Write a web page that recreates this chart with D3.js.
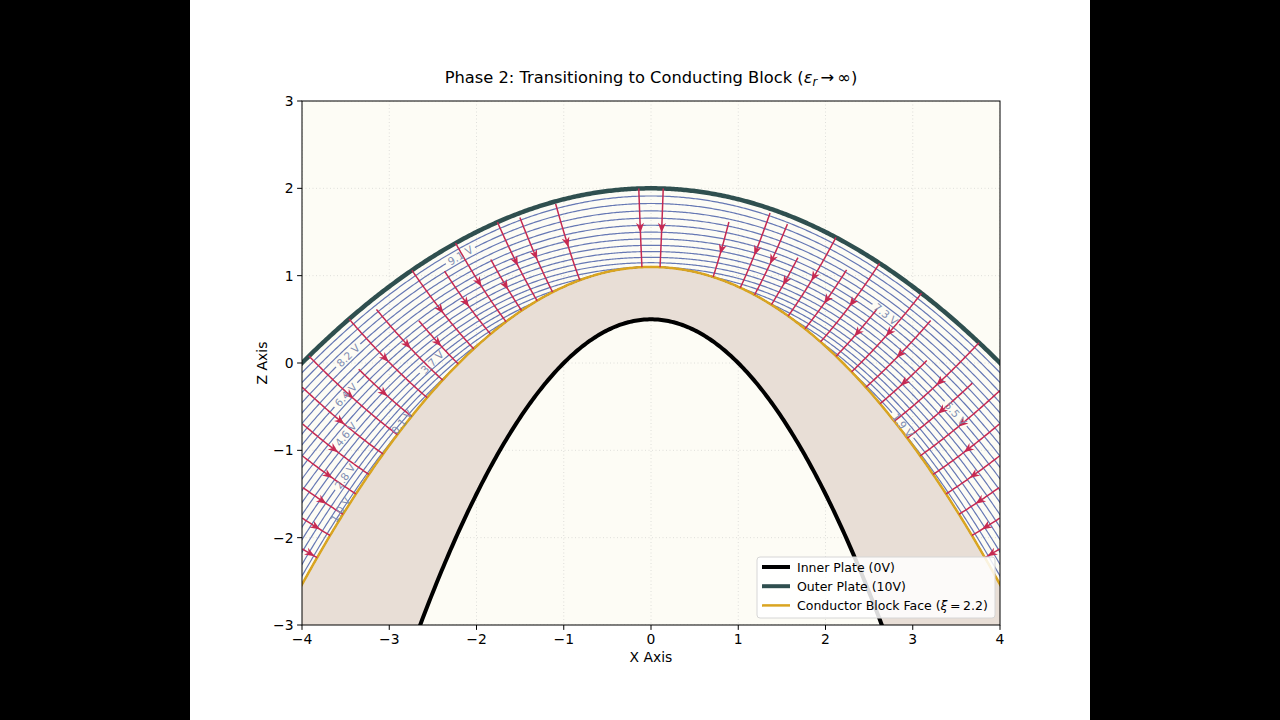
<!DOCTYPE html>
<html><head><meta charset="utf-8">
<script src="https://cdn.jsdelivr.net/npm/d3@7"></script>
<style>
html,body{margin:0;padding:0;background:#000;}
svg{display:block}
text{font-family:"DejaVu Sans",sans-serif}
</style></head><body>
<svg id="c" width="1280" height="720"></svg>
<script>
// ---------- data ----------
const X_TICKS = [-4,-3,-2,-1,0,1,2,3,4];
const Z_TICKS = [-3,-2,-1,0,1,2,3];
const INNER_XI = 1, OUTER_XI = 4, BLOCK_XI = 2.2;   // plate / block-face parameters
const OUTER_V = 10;
const LEVELS = [0.1,0.55,1.0,1.45,1.9,2.35,2.8,3.25,3.7,4.15,4.6,5.05,5.5,5.95,6.4,6.85,7.3,7.75,8.2,8.65,9.1,9.55];
const LABEL_LEVELS = [8.2,6.4,4.6,2.8,1.0,0.1,3.7,9.1,7.3,5.5,1.9];
const LABEL_SIGMA  = [-1.84,-1.97,-2.10,-2.245,-2.37,-1.90,-1.58,-1.13,1.48,2.03,1.92];
const FIELD_SIGMA = [-2.68,-2.58,-2.48,-2.38,-2.28,-2.18,-2.07,-1.96,-1.85,-1.73,-1.61,-1.49,-1.37,-1.24,-1.12,-1.0,-0.88,-0.76,-0.55,-0.07,
                      0.07,0.48,0.69,0.8,0.93,1.06,1.19,1.31,1.43,1.55,1.66,1.77,1.88,1.98,2.08,2.18,2.28,2.38,2.48,2.58,2.68];
const FIELD_START = [1,1,0.8,1,0.7,1,0.85,1,0.6,1,0.9,0.55,1,0.8,1,0.65,1,0.95,0.97,1,
                     1,0.7,0.95,0.9,0.6,1,0.75,1,0.6,1,0.85,0.55,1,0.7,1,0.9,1,0.8,1,0.9,1];
// block-face potential profile (transition phase): floor + centre bump, and gap profile exponent
const FACE_VMIN = 1.0, FACE_BUMP = 3.6, FACE_W = 1.3, PROFILE_EXP = 0.85;
const LEGEND = [
  {label:"Inner Plate (0V)", color:"#000000", w:4},
  {label:"Outer Plate (10V)", color:"#2f4f4f", w:4},
  {label:"Conductor Block Face", color:"#daa520", w:2.5, xi:"2.2"}
];

// ---------- layout ----------
const svg = d3.select("#c");
const L=302, R=1000, T=101, B=625;
const x = d3.scaleLinear().domain([-4,4]).range([L,R]);
const y = d3.scaleLinear().domain([-3,3]).range([B,T]);

svg.append("rect").attr("x",190).attr("y",0).attr("width",900).attr("height",720).attr("fill","#fff");
const defs = svg.append("defs");
defs.append("clipPath").attr("id","plotclip").append("rect")
  .attr("x",L).attr("y",T).attr("width",R-L).attr("height",B-T);

svg.append("rect").attr("x",L).attr("y",T).attr("width",R-L).attr("height",B-T).attr("fill","#fdfcf5");

const plot = svg.append("g").attr("clip-path","url(#plotclip)");

// grid
const grid = plot.append("g").attr("stroke","#b8b8b8").attr("stroke-width",0.8)
  .attr("stroke-dasharray","1,2.5").attr("opacity",0.55);
X_TICKS.forEach(t=>grid.append("line").attr("x1",x(t)).attr("x2",x(t)).attr("y1",T).attr("y2",B));
Z_TICKS.forEach(t=>grid.append("line").attr("y1",y(t)).attr("y2",y(t)).attr("x1",L).attr("x2",R));

// parabola of constant xi:  z = xi/2 - x^2/(2 xi)
const zOf = (xi, xx) => xi/2 - xx*xx/(2*xi);
const xs = d3.range(-4.6, 4.6001, 0.02);

// block region between inner plate and block face
plot.append("path")
  .attr("d", d3.area().x(d=>x(d)).y0(d=>y(zOf(INNER_XI,d))).y1(d=>y(zOf(BLOCK_XI,d)))(xs))
  .attr("fill","#e8ded6");

// potential model in parabolic coords (x = sigma*sqrt(xi), z = (xi - sigma^2)/2)
const faceV = s => FACE_VMIN + FACE_BUMP*Math.exp(-(s/FACE_W)*(s/FACE_W));
function xiAt(v, s){
  const vf = faceV(s);
  if (v <= vf) return BLOCK_XI;
  const t = Math.pow((v-vf)/(OUTER_V-vf), 1/PROFILE_EXP);
  return BLOCK_XI + (OUTER_XI-BLOCK_XI)*t;
}
const toXZ = (s, xi) => [s*Math.sqrt(xi), (xi - s*s)/2];
const sigmas = d3.range(-2.9, 2.9001, 0.01);
const line = d3.line().x(d=>x(d[0])).y(d=>y(d[1]));

// labels first (to measure) -> masks
const labelG = svg.append("g").attr("clip-path","url(#plotclip)");
const labelInfo = LABEL_LEVELS.map((v,i)=>{
  const s = LABEL_SIGMA[i];
  let xi = xiAt(v,s);
  if (xi <= BLOCK_XI + 1e-9) xi = BLOCK_XI + 0.06;   // label sitting on the face, nudged into the gap
  const p = toXZ(s, xi);
  const p2 = toXZ(s+0.01, xi);
  const px=x(p[0]), py=y(p[1]);
  let ang = Math.atan2(y(p2[1])-py, x(p2[0])-px)*180/Math.PI;
  if (ang>90) ang-=180; if (ang<-90) ang+=180;
  const tx = labelG.append("text").attr("x",0).attr("y",0)
    .attr("transform",`translate(${px},${py}) rotate(${ang})`)
    .attr("text-anchor","middle").attr("dominant-baseline","central")
    .attr("font-size",10.5).attr("fill","#7f8db2").text(v.toFixed(1)+" V");
  const w = tx.node().getComputedTextLength();
  return {v, px, py, ang, w};
});

const contourG = plot.append("g");
LEVELS.forEach((v,i)=>{
  const pts = sigmas.map(s=>toXZ(s, xiAt(v,s)));
  const labs = labelInfo.filter(l=>Math.abs(l.v-v)<1e-6);
  const path = contourG.append("path").attr("d",line(pts)).attr("fill","none")
    .attr("stroke","#6678b4").attr("stroke-width",1.2);
  if (labs.length){
    const m = defs.append("mask").attr("id","m"+i).attr("maskUnits","userSpaceOnUse")
      .attr("x",0).attr("y",0).attr("width",1280).attr("height",720);
    m.append("rect").attr("x",0).attr("y",0).attr("width",1280).attr("height",720).attr("fill","#fff");
    labs.forEach(l=>{
      m.append("rect").attr("x",-l.w/2-3).attr("y",-5).attr("width",l.w+6).attr("height",10)
        .attr("transform",`translate(${l.px},${l.py}) rotate(${l.ang})`).attr("fill","#000");
    });
    path.attr("mask","url(#m"+i+")");
  }
});

// plates
plot.append("path").attr("d", line(xs.map(d=>[d, zOf(INNER_XI,d)]))).attr("fill","none")
  .attr("stroke","#000").attr("stroke-width",4);
plot.append("path").attr("d", line(xs.map(d=>[d, zOf(OUTER_XI,d)]))).attr("fill","none")
  .attr("stroke","#2f4f4f").attr("stroke-width",4.5);
plot.append("path").attr("d", line(xs.map(d=>[d, zOf(BLOCK_XI,d)]))).attr("fill","none")
  .attr("stroke","#daa520").attr("stroke-width",2.5);

labelG.raise();

// field lines (constant sigma), from start fraction down to the block face
const fieldG = plot.append("g");
FIELD_SIGMA.forEach((s,i)=>{
  const ts = d3.range(FIELD_START[i], -0.0001, -0.01);
  const pts = ts.map(t=>toXZ(s, BLOCK_XI + (OUTER_XI-BLOCK_XI)*t))
    .filter(p=>p[0]>=-4 && p[0]<=4 && p[1]>=-3 && p[1]<=3);
  if (pts.length<3) return;
  fieldG.append("path").attr("d",line(pts)).attr("fill","none")
    .attr("stroke","#c62a52").attr("stroke-width",1.5);
  const k = Math.floor(pts.length/2);
  const a = pts[Math.max(0,k-1)], b = pts[Math.min(pts.length-1,k+1)];
  const ax=x(a[0]), ay=y(a[1]), bx=x(b[0]), by=y(b[1]);
  const len = Math.hypot(bx-ax, by-ay)||1;
  const ux=(bx-ax)/len, uy=(by-ay)/len;
  const cx=x(pts[k][0]), cy=y(pts[k][1]);
  const tip=[cx+ux*5, cy+uy*5], bl=[cx-ux*5-uy*4, cy-uy*5+ux*4], br=[cx-ux*5+uy*4, cy-uy*5-ux*4];
  fieldG.append("path").attr("d",`M${tip}L${bl}L${cx-ux*2},${cy-uy*2}L${br}Z`).attr("fill","#c62a52");
});

// frame and axes
svg.append("rect").attr("x",L).attr("y",T).attr("width",R-L).attr("height",B-T)
  .attr("fill","none").attr("stroke","#000").attr("stroke-width",1);
const fmt = d => d<0 ? "\u2212"+Math.abs(d) : String(d);
X_TICKS.forEach(t=>{
  svg.append("line").attr("x1",x(t)).attr("x2",x(t)).attr("y1",B).attr("y2",B+4.9).attr("stroke","#000");
  svg.append("text").attr("x",x(t)).attr("y",B+8.5).attr("text-anchor","middle")
    .attr("dominant-baseline","hanging").attr("font-size",13.9).text(fmt(t));
});
Z_TICKS.forEach(t=>{
  svg.append("line").attr("x1",L-4.9).attr("x2",L).attr("y1",y(t)).attr("y2",y(t)).attr("stroke","#000");
  svg.append("text").attr("x",L-8.5).attr("y",y(t)).attr("text-anchor","end")
    .attr("dominant-baseline","central").attr("font-size",13.9).text(fmt(t));
});
svg.append("text").attr("x",(L+R)/2).attr("y",662).attr("text-anchor","middle").attr("font-size",13.9).text("X Axis");
svg.append("text").attr("transform",`translate(267,${(T+B)/2}) rotate(-90)`).attr("text-anchor","middle")
  .attr("font-size",13.9).text("Z Axis");

const title = svg.append("text").attr("x",651).attr("y",83).attr("text-anchor","middle").attr("font-size",16.3);
title.append("tspan").text("Phase 2: Transitioning to Conducting Block (");
title.append("tspan").attr("font-style","italic").text("\u03b5");
title.append("tspan").attr("font-style","italic").attr("font-size",11.5).attr("dy",3).text("r");
title.append("tspan").attr("dy",-3).text("\u2009\u2192\u2009\u221e)");

// legend
const lg = svg.append("g");
lg.append("rect").attr("x",757).attr("y",557).attr("width",238).attr("height",61).attr("rx",3)
  .attr("fill","#fff").attr("fill-opacity",0.85).attr("stroke","#d6d6d6");
LEGEND.forEach((d,i)=>{
  const yy = 567 + i*19.2;
  lg.append("line").attr("x1",762).attr("x2",790).attr("y1",yy).attr("y2",yy)
    .attr("stroke",d.color).attr("stroke-width",d.w);
  const t = lg.append("text").attr("x",797).attr("y",yy).attr("dominant-baseline","central").attr("font-size",12.5);
  t.append("tspan").text(d.label);
  if (d.xi){
    t.append("tspan").text(" (");
    t.append("tspan").attr("font-style","italic").text("\u03be");
    t.append("tspan").text("\u2009=\u2009"+d.xi+")");
  }
});
</script>
</body></html>
